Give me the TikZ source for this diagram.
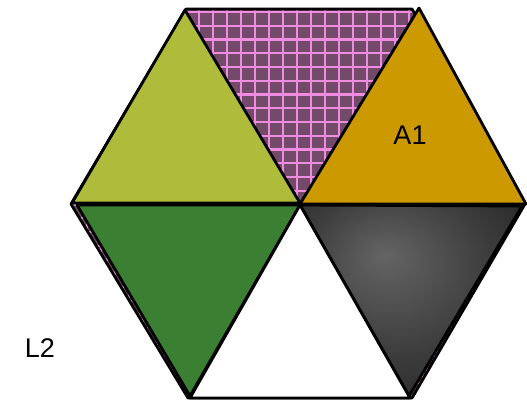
\documentclass[tikz,border=0pt]{standalone}
\usepackage{fontspec}
\setmainfont{Liberation Sans}
\definecolor{olivetri}{HTML}{AFBB3A}
\definecolor{goldtri}{HTML}{CC9900}
\definecolor{greentri}{HTML}{3A7F32}
\definecolor{purplebg}{HTML}{744A6B}
\definecolor{pinkgrid}{HTML}{F08CE0}
\definecolor{graylight}{HTML}{646464}
\definecolor{graymid}{HTML}{3C3C3C}
\definecolor{graydark}{HTML}{1C1C1C}
\pgfdeclareradialshading{grayglow}{\pgfpoint{-6bp}{12bp}}{color(0bp)=(graylight); color(22bp)=(graymid); color(45bp)=(graydark); color(60bp)=(graydark)}
\begin{document}
\begin{tikzpicture}[x=1pt,y=-1pt,
  edge/.style={draw=black,line width=2.8pt,line join=round},
  gridline/.style={draw=pinkgrid,line width=2.4pt},
  lbl/.style={font=\fontsize{27}{30}\selectfont,inner sep=0pt}]
\useasboundingbox (0,0) rectangle (527,400);
% hexagon corners
\coordinate (H1) at (186,9);
\coordinate (H2) at (412,9);
\coordinate (H3) at (525,204);
\coordinate (H4) at (412,398);
\coordinate (H5) at (188,398);
\coordinate (H6) at (71,204);
% patterned hexagon
\fill[purplebg] (H1) -- (H2) -- (H3) -- (H4) -- (H5) -- (H6) -- cycle;
\begin{scope}
  \clip (H1) -- (H2) -- (H3) -- (H4) -- (H5) -- (H6) -- cycle;
  \foreach \gx in {0,...,30} {
    \draw[gridline] ({59+14*\gx},0) -- ({59+14*\gx},400);
  }
  \foreach \gy in {0,...,29} {
    \draw[gridline] (0,{12+13.75*\gy}) -- (527,{12+13.75*\gy});
  }
\end{scope}
\draw[edge] (H1) -- (H2) -- (H3) -- (H4) -- (H5) -- (H6) -- cycle;
% triangles
\filldraw[edge,fill=olivetri] (185,10) -- (72,203) -- (300,203) -- cycle;
\filldraw[edge,fill=goldtri] (419,8) -- (300,204) -- (526,204) -- cycle;
\filldraw[edge,fill=greentri] (77,205) -- (300,205) -- (190,396) -- cycle;
\shade[shading=grayglow] (300,205) -- (522,206) -- (409,396) -- cycle;
\draw[edge] (300,205) -- (522,206) -- (409,396) -- cycle;
\filldraw[edge,fill=white] (190,398) -- (300,205) -- (410,398) -- cycle;
\draw[edge] (H5) -- (H4);
% labels
\node[lbl] (A1) at (410,135) {A1};
\node[lbl] (L2) at (40,348) {L2};
\end{tikzpicture}
\end{document}
